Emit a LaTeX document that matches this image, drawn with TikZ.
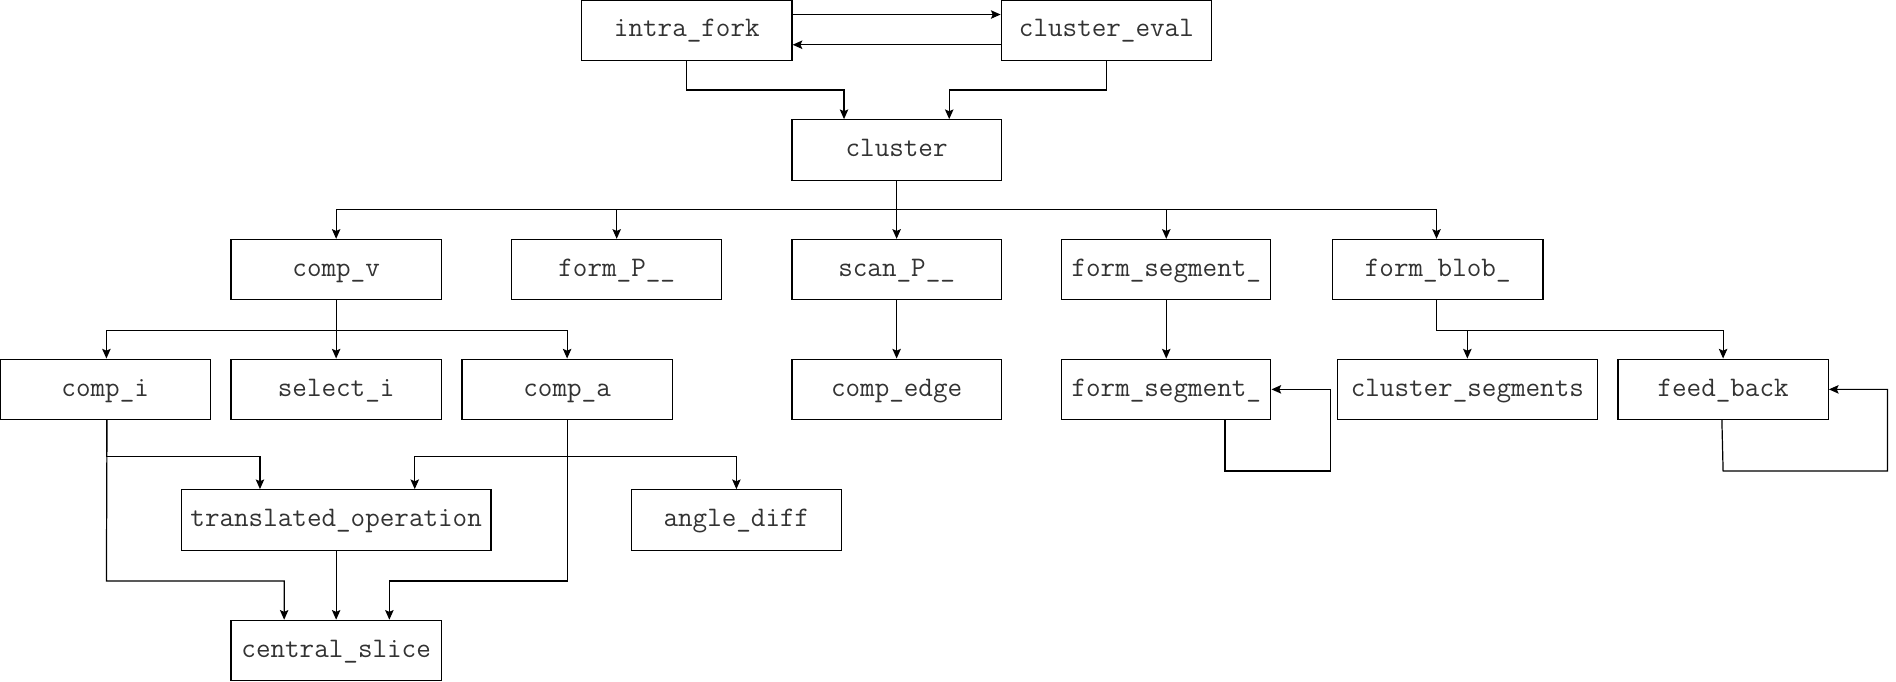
\documentclass[tikz,border=0pt]{standalone}
\usetikzlibrary{arrows.meta,calc}
\begin{document}
\begin{tikzpicture}[x=1pt,y=-1pt,
  box/.style={draw=black,line width=1pt,rectangle,minimum height=50pt,minimum width=174pt,inner sep=0pt,
    font=\ttfamily\fontsize{23.4}{26}\selectfont,text=black!80,text height=14pt,text depth=3pt},
  arr/.style={draw=black,line width=1pt,-{Stealth[length=8pt,width=7pt,inset=1.5pt]}}]
\useasboundingbox (0,0) rectangle (1568,563.2);
% nodes
\node[box] (intra) at (568,25) {intra\_fork};
\node[box] (eval) at (915,25) {cluster\_eval};
\node[box,minimum width=173pt] (cluster) at (741.5,124) {cluster};
\node[box] (compv) at (278,223) {comp\_v};
\node[box] (formP) at (510,223) {form\_P\_\_};
\node[box,minimum width=173pt] (scanP) at (741.5,223) {scan\_P\_\_};
\node[box,minimum width=173pt] (fseg1) at (964.5,223) {form\_segment\_};
\node[box] (fblob) at (1189,223) {form\_blob\_};
\node[box] (compi) at (87,322) {comp\_i};
\node[box] (selecti) at (278,322) {select\_i};
\node[box] (compa) at (469,322) {comp\_a};
\node[box,minimum width=173pt] (compedge) at (741.5,322) {comp\_edge};
\node[box,minimum width=173pt] (fseg2) at (964.5,322) {form\_segment\_};
\node[box,minimum width=215pt] (cseg) at (1213.5,322) {cluster\_segments};
\node[box] (feedback) at (1425,322) {feed\_back};
\node[box,minimum width=256pt] (trans) at (278,430) {translated\_operation};
\node[box] (angle) at (609,430) {angle\_diff};
\node[box] (central) at (278,538) {central\_slice};
% top connectors
\draw[arr] ([yshift=13pt]intra.east) -- ([yshift=13pt]eval.west);
\draw[arr] ([yshift=-12pt]eval.west) -- ([yshift=-12pt]intra.east);
\draw[arr] (intra.south) -- ++(0,24) -| ([xshift=-43.5pt]cluster.north);
\draw[arr] (eval.south) -- ++(0,24) -| ([xshift=43.5pt]cluster.north);
% cluster fan
\draw[arr] (cluster.south) -- ++(0,24) -| (compv.north);
\draw[arr] (cluster.south) -- ++(0,24) -| (formP.north);
\draw[arr] (cluster.south) -- (scanP.north);
\draw[arr] (cluster.south) -- ++(0,24) -| (fseg1.north);
\draw[arr] (cluster.south) -- ++(0,24) -| ([xshift=-1pt]fblob.north);
% comp_v fan
\draw[arr] (compv.south) -- ++(0,25) -| ([xshift=1pt]compi.north);
\draw[arr] (compv.south) -- (selecti.north);
\draw[arr] (compv.south) -- ++(0,25) -| (compa.north);
% others
\draw[arr] (scanP.south) -- (compedge.north);
\draw[arr] (fseg1.south) -- (fseg2.north);
\draw[arr] ([xshift=-1pt]fblob.south) -- ++(0,25) -| (cseg.north);
\draw[arr] ([xshift=-1pt]fblob.south) -- ++(0,25) -| (feedback.north);
% self loops
\draw[arr] ([xshift=48.5pt]fseg2.south) -- ++(0,42) -- ++(87,0) |- (fseg2.east);
\draw[arr] ([xshift=-1pt]feedback.south) -- ++(1,42) -- ++(136,0) |- (feedback.east);
% lower left
\draw[arr] ([xshift=1pt]compi.south) -- ++(0,30) -| ([xshift=-63pt]trans.north);
\draw[arr] ([xshift=1.5pt]compi.south) -- ++(-0.5,133) -| ([xshift=-43pt]central.north);
\draw[arr] (compa.south) -- ++(0,30) -| ([xshift=65pt]trans.north);
\draw[arr] (compa.south) -- ++(0,30) -| (angle.north);
\draw[arr] (compa.south) -- ++(0,133) -| ([xshift=44pt]central.north);
\draw[arr] (trans.south) -- (central.north);
\end{tikzpicture}
\end{document}
